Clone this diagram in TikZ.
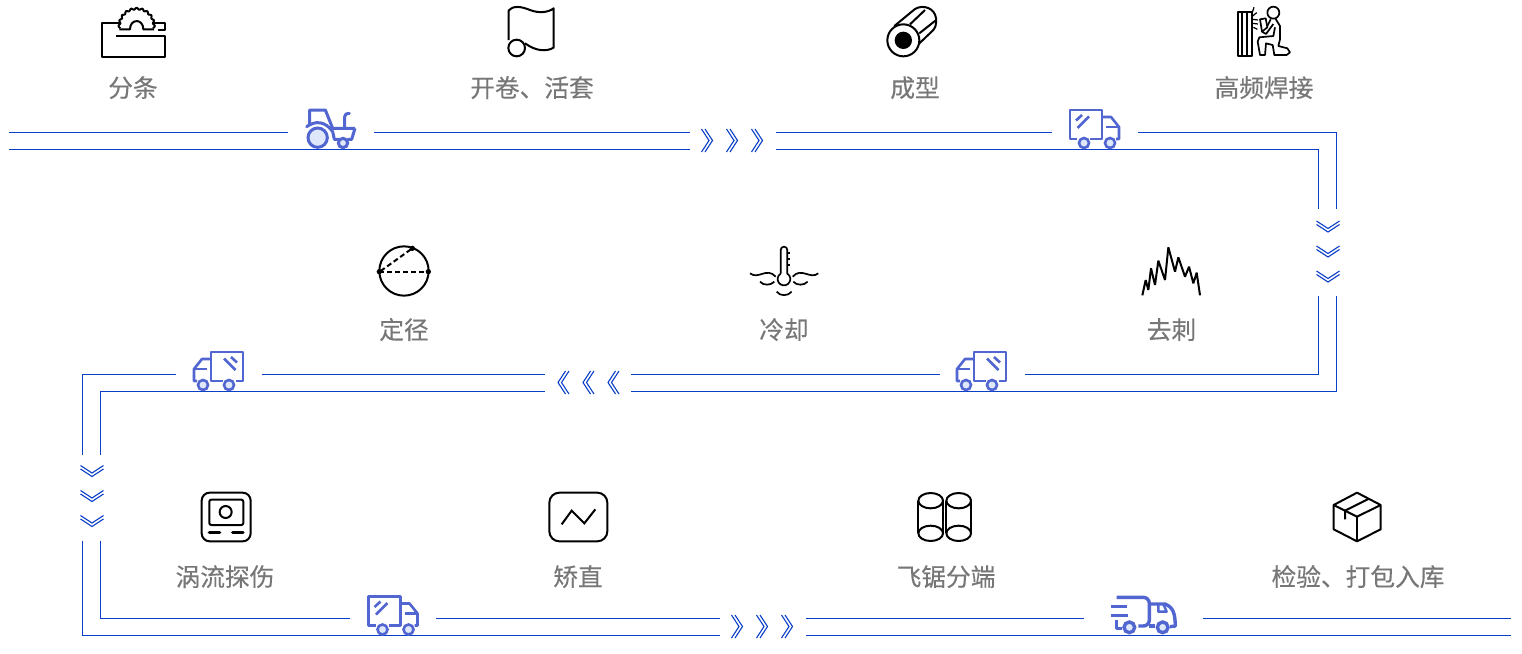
\documentclass[tikz,border=0pt]{standalone}
\usepackage{fontspec}
\setmainfont{Noto Sans CJK SC}[FakeBold=0.25]
\definecolor{rail}{HTML}{0A3FC8}
\definecolor{vehicle}{HTML}{5266D2}
\definecolor{wheelfill}{HTML}{DFE8FB}
\definecolor{labelgray}{HTML}{777777}
\tikzset{
  x=1pt,y=-1pt,
  railline/.style={draw=rail,line width=1pt},
  chevline/.style={draw=rail,line width=1.1pt},
  iconline/.style={draw=black,line width=2pt,line join=round},
  vehline/.style={draw=vehicle,line width=2.6pt,line join=round},
  wheelline/.style={draw=vehicle,fill=wheelfill,line width=2.6pt},
  steplabel/.style={anchor=base,inner sep=0pt,text=labelgray,font=\fontsize{24.7}{25}\selectfont},
  zoomed/.style={shift={(#1)},scale=1/3},
  chevpair/.pic={
    \draw[chevline] (-5.5,-11.5) -- (2,0) -- (-5.5,11.5);
    \draw[chevline] (-2,-11.5) -- (5.5,0) -- (-2,11.5);
  },
  boxtruck/.pic={
    \draw[vehline] (7,29) -- (0,29) -- (0,0) -- (32,0) -- (32,29) -- (20,29);
    \draw[vehline] (32,7) -- (41,7) -- (49,17) -- (49,29) -- (46,29);
    \draw[vehline] (36,17) -- (49,17);
    \draw[vehline] (6,10.5) -- (12,5);
    \draw[vehline] (7.5,18) -- (19,6.5);
    \draw[wheelline] (14,33) circle[radius=5];
    \draw[wheelline] (40,33) circle[radius=5];
  }
}
\begin{document}
\begin{tikzpicture}
\useasboundingbox[fill=white] (0,0) rectangle (1522,653);

% rails, row 1
\draw[railline] (9,132.5) -- (288,132.5);
\draw[railline] (374,132.5) -- (690,132.5);
\draw[railline] (776,132.5) -- (1052,132.5);
\draw[railline] (1138,132.5) -- (1336.5,132.5) -- (1336.5,209);
\draw[railline] (9,149.5) -- (690,149.5);
\draw[railline] (776,149.5) -- (1318.5,149.5) -- (1318.5,209);
% rails, row 2
\draw[railline] (1318.5,296) -- (1318.5,374.5) -- (1025,374.5);
\draw[railline] (940,374.5) -- (631,374.5);
\draw[railline] (545,374.5) -- (262,374.5);
\draw[railline] (176,374.5) -- (82.5,374.5) -- (82.5,455);
\draw[railline] (1336.5,296) -- (1336.5,391.5) -- (631,391.5);
\draw[railline] (545,391.5) -- (100.5,391.5) -- (100.5,455);
% rails, row 3
\draw[railline] (100.5,541) -- (100.5,618.5) -- (350,618.5);
\draw[railline] (436,618.5) -- (720,618.5);
\draw[railline] (806,618.5) -- (1084,618.5);
\draw[railline] (1203,618.5) -- (1511,618.5);
\draw[railline] (82.5,541) -- (82.5,635.5) -- (720,635.5);
\draw[railline] (806,635.5) -- (1511,635.5);

% chevrons
\foreach \cx in {707,732,757} \pic at (\cx,140.5) {chevpair};
\foreach \cy in {226.5,251.5,276.5} \pic[rotate=-90] at (1328,\cy) {chevpair};
\foreach \cx in {563.5,588.5,613.5} \pic[xscale=-1] at (\cx,382.5) {chevpair};
\foreach \cy in {471,496,521} \pic[rotate=-90] at (92,\cy) {chevpair};
\foreach \cx in {737,762,787} \pic at (\cx,626.5) {chevpair};

% trucks
\pic at (1070,110) {boxtruck};
\pic[xscale=-1] at (1006,352) {boxtruck};
\pic[xscale=-1] at (243,352) {boxtruck};
\pic at (368.5,596.5) {boxtruck};

% tractor
\begin{scope}[zoomed={300,100}]
  \draw[vehline,line width=3pt] (29,78) -- (29,30) -- (76,30) -- (98,85) -- (165,85);
  \draw[vehline,line width=3pt,line cap=round] (20,80) .. controls (45,62) and (75,62) .. (98,95) -- (103,118) -- (118,118);
  \draw[vehline,line width=3pt] (165,85) -- (155,118) -- (142,118);
  \draw[vehline,line width=3pt,line cap=round] (134,85) -- (134,50) .. controls (134,42) and (140,40) .. (148,40);
  \draw[wheelline,line width=3pt] (53,113) circle[radius=29];
  \draw[wheelline,line width=3pt] (129,129) circle[radius=14];
\end{scope}

% fast truck
\begin{scope}[zoomed={890,480}]
  \draw[vehline,line width=3.4pt,rounded corners=6pt] (680,352) -- (778,352) -- (778,438) -- (745,438);
  \draw[vehline,line width=3.4pt] (778,372) -- (825,372) .. controls (850,382) and (855,400) .. (856,438) -- (840,440);
  \draw[vehline,line width=3.4pt] (778,438) -- (795,438);
  \draw[vehline,line width=3.4pt] (662,380) -- (710,380);
  \draw[vehline,line width=3.4pt] (662,407) -- (714,407);
  \draw[vehline,line width=3.4pt] (680,420) -- (680,445) -- (695,445);
  \draw[vehline,line width=2.4pt] (805,372) -- (805,395) -- (830,395) -- (820,372);
  \draw[wheelline,line width=3.4pt] (718,442) circle[radius=16];
  \draw[wheelline,line width=3.4pt] (818,442) circle[radius=16];
\end{scope}

% saw
\begin{scope}[zoomed={80,0}]
  \draw[iconline,line width=2.2pt] (120,68) -- (65,68) -- (65,170) -- (255,170) -- (255,107) -- (108,107);
  \draw[iconline,line width=2.2pt] (222,68) -- (255,68) -- (255,90) -- (235,90);
  \draw[iconline] (118,88) plot[domain=-8:188,samples=120] ({170+(52+2.5*cos(20*\x))*cos(\x)},{78-(52+2.5*cos(20*\x))*sin(\x)});
  \draw[iconline] (118,88) -- (150,88) .. controls (150,55) and (190,55) .. (190,88) -- (222,88);
\end{scope}

% unroll
\begin{scope}[zoomed={480,0}]
  \draw[iconline] (86,120) -- (86,32) .. controls (100,15) and (125,20) .. (150,30) .. controls (175,40) and (205,38) .. (221,25) -- (221,143) .. controls (200,155) and (170,155) .. (135,130);
  \draw[iconline] (110,144) circle[radius=25];
\end{scope}

% tube
\begin{scope}[zoomed={870,0}]
  \draw[iconline] (73,78) -- (135,27) .. controls (160,12) and (195,25) .. (198,55) .. controls (200,75) and (195,85) .. (188,92) -- (146,132);
  \draw[iconline] (120,73) -- (165,30);
  \draw[iconline] (148,100) -- (196,62);
  \draw[iconline] (100,121) circle[radius=48];
  \fill[black] (100,121) circle[radius=26];
\end{scope}

% welder
\begin{scope}[zoomed={1230,0}]
  \draw[iconline,line width=1.7pt] (23,35) rectangle (65,168);
  \draw[iconline,line width=1.7pt] (36,35) -- (36,168);
  \draw[iconline,line width=1.7pt] (50,35) -- (50,168);
  \draw[iconline,line width=1.7pt] (130,38) circle[radius=18];
  \draw[iconline,line width=1.7pt] (90,58) -- (107,55) -- (112,82) -- (96,95) -- cycle;
  \draw[iconline,line width=1.7pt] (96,95) -- (108,102) -- (130,72);
  \draw[iconline,line width=1.7pt] (112,78) -- (122,58);
  \draw[iconline,line width=1.7pt] (137,57) -- (150,78) -- (150,118) -- (145,138) -- (172,145) -- (180,157) -- (170,165) -- (133,165) -- (128,135) -- (108,130) -- (105,165) -- (90,165) -- (83,125) -- (88,112) -- (130,108) -- (135,82);
  \draw[iconline,line width=1.2pt] (72,22) -- (66,40);
  \draw[iconline,line width=1.2pt] (80,38) -- (68,48);
  \draw[iconline,line width=1.2pt] (68,58) -- (84,60);
  \draw[iconline,line width=1.2pt] (68,70) -- (84,72);
  \draw[iconline,line width=1.2pt] (70,82) -- (82,88);
\end{scope}

% burr
\begin{scope}[zoomed={1130,0}]
  \draw[iconline,line join=miter,miter limit=2] (37,886) -- (47,840) -- (55,870) -- (63,805) -- (75,855) -- (85,782) -- (105,840) -- (115,742) -- (135,815) -- (145,772) -- (165,830) -- (177,800) -- (190,850) -- (200,818) -- (210,886);
\end{scope}

% sizing circle
\begin{scope}[zoomed={360,235}]
  \draw[iconline] (132,108) circle[radius=74];
  \draw[iconline,dash pattern=on 5pt off 3pt] (58,110) -- (205,110);
  \draw[iconline,dash pattern=on 5pt off 3pt] (62,108) -- (157,40);
  \fill[black] (58,110) circle[radius=8] (205,110) circle[radius=8] (157,40) circle[radius=8];
\end{scope}

% thermometer
\begin{scope}[zoomed={360,235}]
  \draw[iconline,line width=1.7pt] (1262,116) -- (1262,45) arc[start angle=180,end angle=360,radius=10] -- (1282,116) arc[start angle=-58,end angle=238,radius=19];
  \draw[iconline,line width=1.7pt] (1282,55) -- (1290,55) (1282,73) -- (1290,73) (1282,90) -- (1290,90);
  \draw[iconline,line width=1.7pt] (1170,115) .. controls (1195,135) and (1220,95) .. (1247,125);
  \draw[iconline,line width=1.7pt] (1375,115) .. controls (1350,135) and (1325,95) .. (1298,125);
  \draw[iconline,line width=1.7pt] (1200,140) .. controls (1210,152) and (1232,152) .. (1243,140);
  \draw[iconline,line width=1.7pt] (1300,140) .. controls (1310,152) and (1332,152) .. (1343,140);
  \draw[iconline,line width=1.7pt] (1250,170) .. controls (1260,184) and (1284,184) .. (1295,170);
\end{scope}

% eddy current
\begin{scope}[zoomed={170,480}]
  \draw[iconline,rounded corners=8pt] (95,38) rectangle (242,184);
  \draw[iconline,rounded corners=2pt] (118,59) rectangle (220,135);
  \draw[iconline] (167,96) circle[radius=18];
  \draw[iconline,line width=3.4pt,line cap=round] (118,158) -- (149,158);
  \draw[iconline,line width=3.4pt,line cap=round] (188,158) -- (219,158);
  \draw[iconline,rounded corners=10pt] (1138,38) rectangle (1312,184);
  \draw[iconline,line join=miter] (1175,133) -- (1205,92) -- (1243,130) -- (1276,88);
\end{scope}

% cylinders
\begin{scope}[zoomed={890,480}]
  \foreach \ex in {122,206}{
    \draw[iconline] (\ex,62) ellipse[x radius=37,y radius=23];
    \draw[iconline] (\ex,160) ellipse[x radius=37,y radius=23];
    \draw[iconline] (\ex-37,62) -- (\ex-37,160);
    \draw[iconline] (\ex+37,62) -- (\ex+37,160);
  }
\end{scope}

% parcel
\begin{scope}[zoomed={1260,480}]
  \draw[iconline] (291,38) -- (221,75) -- (221,148) -- (291,184) -- (362,148) -- (362,75) -- cycle;
  \draw[iconline] (221,75) -- (291,110) -- (362,75);
  \draw[iconline] (291,110) -- (291,184);
  \draw[iconline] (325,57) -- (255,92) -- (255,118);
\end{scope}

% labels
\node[steplabel] (l1) at (133,97) {分条};
\node[steplabel] (l2) at (532,97) {开卷、活套};
\node[steplabel] (l3) at (915,97) {成型};
\node[steplabel] (l4) at (1264,97) {高频焊接};
\node[steplabel] (l5) at (404,339) {定径};
\node[steplabel] (l6) at (784,339) {冷却};
\node[steplabel] (l7) at (1171.5,339) {去刺};
\node[steplabel] (l8) at (225,586) {涡流探伤};
\node[steplabel] (l9) at (578,586) {矫直};
\node[steplabel] (l10) at (946,586) {飞锯分端};
\node[steplabel] (l11) at (1358,586) {检验、打包入库};
\end{tikzpicture}
\end{document}
